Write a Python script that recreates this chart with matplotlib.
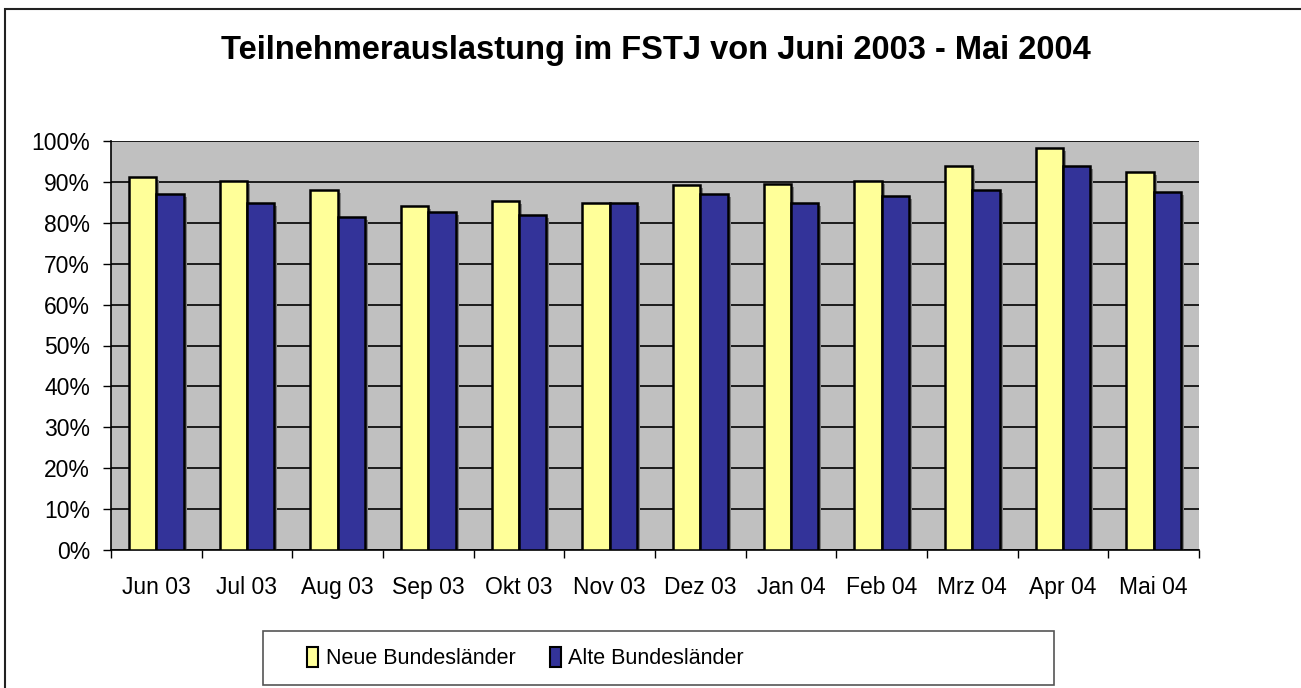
import numpy as np
import matplotlib
matplotlib.use("Agg")
import matplotlib.pyplot as plt
import matplotlib.transforms as mtransforms
from matplotlib.patches import Rectangle, Patch

plt.rcParams['font.family'] = ['Liberation Sans', 'DejaVu Sans']

months = ["Jun 03", "Jul 03", "Aug 03", "Sep 03", "Okt 03", "Nov 03",
          "Dez 03", "Jan 04", "Feb 04", "Mrz 04", "Apr 04", "Mai 04"]
neue = [91.1, 90.1, 87.9, 84.2, 85.3, 84.8, 89.2, 89.6, 90.1, 93.8, 98.2, 92.3]
alte = [87.0, 84.8, 81.5, 82.6, 82.0, 84.8, 87.0, 84.8, 86.5, 87.9, 93.8, 87.5]
yticks = np.arange(0, 101, 10)

W, H = 1301, 688
fig = plt.figure(figsize=(W / 100, H / 100), dpi=100)
ax = fig.add_axes([111 / W, 1 - 550 / H, (1199 - 111) / W, (550 - 141) / H])
ax.set_facecolor("#C0C0C0")

x = np.arange(len(months))
bw = 0.3

# shadow offset a few pixels right/down
shadow = ax.transData + mtransforms.ScaledTranslation(3 / 100, -3 / 100, fig.dpi_scale_trans)
ax.bar(x - bw / 2, neue, bw, color="#7F7F7F", transform=shadow, zorder=2)
ax.bar(x + bw / 2, alte, bw, color="#7F7F7F", transform=shadow, zorder=2)
ax.bar(x - bw / 2, neue, bw, color="#FFFF99", edgecolor="black", linewidth=1.8, zorder=3)
ax.bar(x + bw / 2, alte, bw, color="#333399", edgecolor="black", linewidth=1.8, zorder=3)

ax.set_xlim(-0.5, len(months) - 0.5)
ax.set_ylim(0, 100)
ax.set_yticks(yticks)
ax.set_yticklabels([f"{v}%" for v in yticks])
ax.yaxis.grid(True, color="black", linewidth=1.2)
ax.set_axisbelow(True)

ax.set_xticks(np.arange(len(months) + 1) - 0.5)
ax.set_xticklabels([])
ax.set_xticks(x, minor=True)
ax.set_xticklabels(months, minor=True)
ax.tick_params(axis="x", which="major", length=6, width=1, direction="out")
ax.tick_params(axis="x", which="minor", length=0, pad=19, labelsize=16.5)
ax.tick_params(axis="y", length=6, width=1, pad=9, labelsize=16.5)

for s in ["top", "right"]:
    ax.spines[s].set_visible(False)
for s in ["left", "bottom"]:
    ax.spines[s].set_linewidth(1.2)

fig.text(656 / W, 1 - 51 / H, "Teilnehmerauslastung im FSTJ von Juni 2003 - Mai 2004",
         ha="center", va="center", fontsize=23.5, fontweight="bold")

# outer chart border
fig.patches.append(Rectangle((5 / W, -0.01), 1.05, 1 - 9 / H + 0.01, transform=fig.transFigure,
                             fill=False, edgecolor="#222222", linewidth=1.5))

# legend frame
fig.patches.append(Rectangle((263 / W, 1 - 685 / H), (1054 - 263) / W, 54 / H,
                             transform=fig.transFigure, fill=False, edgecolor="#555555", linewidth=1.2))
handles = [Patch(facecolor="#FFFF99", edgecolor="black", linewidth=1.5, label="Neue Bundesländer"),
           Patch(facecolor="#333399", edgecolor="black", linewidth=1.5, label="Alte Bundesländer")]
fig.legend(handles=handles, loc="center left", bbox_to_anchor=(288 / W, 1 - 658 / H),
           ncol=2, frameon=False, handlelength=0.5, handleheight=1.1,
           handletextpad=0.35, columnspacing=1.6,
           prop={"family": ["Liberation Sans"], "size": 15.5})

fig.savefig("out.png", dpi=100)
